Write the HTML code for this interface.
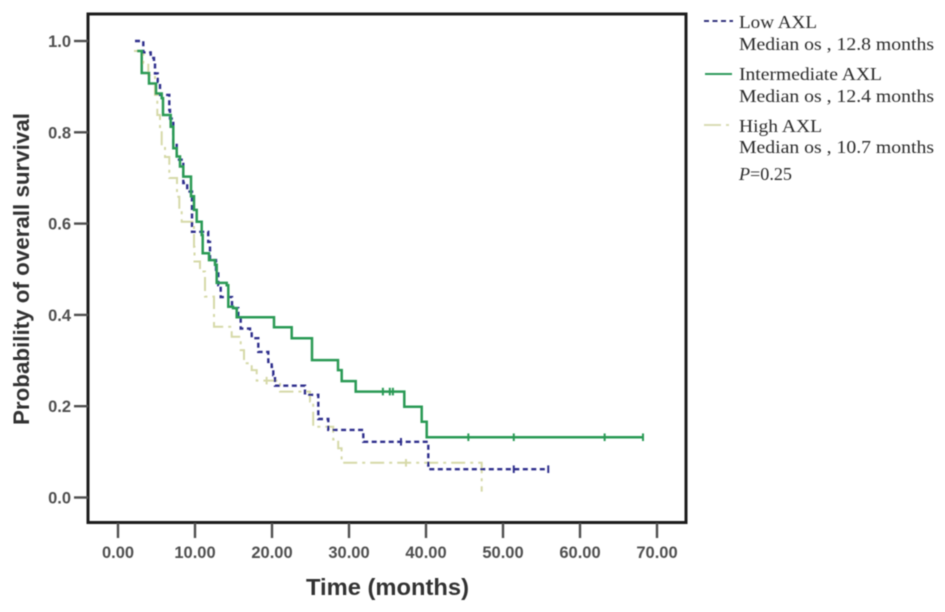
<!DOCTYPE html>
<html>
<head>
<meta charset="utf-8">
<title>Overall survival by AXL expression</title>
<style>
html,body{margin:0;padding:0;background:#fff;width:945px;height:612px;overflow:hidden}
svg{display:block}
text{font-family:"Liberation Sans",Arial,sans-serif}
.leg{font-family:"Liberation Serif","Times New Roman",serif;font-size:18px;fill:#2c2c2c}
</style>
</head>
<body>
<svg id="chart" width="945" height="612" viewBox="0 0 945 612" xmlns="http://www.w3.org/2000/svg">
  <defs>
    <filter id="soft" x="-5%" y="-5%" width="110%" height="110%"><feGaussianBlur stdDeviation="0.6"/></filter>
    <filter id="softer" x="-5%" y="-5%" width="110%" height="110%"><feGaussianBlur stdDeviation="0.45"/></filter>
  </defs>
  <g id="axes" filter="url(#softer)"></g>
  <g id="marks" filter="url(#soft)"></g>
  <g filter="url(#softer)">
    <line x1="704" y1="21" x2="733" y2="21" stroke="#34347e" stroke-width="2" stroke-dasharray="5 3.5"/>
    <text class="leg" x="739" y="28" textLength="78" lengthAdjust="spacingAndGlyphs">Low AXL</text>
    <text class="leg" x="739" y="50" textLength="195" lengthAdjust="spacingAndGlyphs">Median os , 12.8 months</text>
    <line x1="705" y1="74" x2="732" y2="74" stroke="#2e9a5c" stroke-width="2"/>
    <text class="leg" x="739" y="80" textLength="143" lengthAdjust="spacingAndGlyphs">Intermediate AXL</text>
    <text class="leg" x="739" y="102" textLength="195" lengthAdjust="spacingAndGlyphs">Median os , 12.4 months</text>
    <line x1="704" y1="125" x2="733" y2="125" stroke="#d9dcb4" stroke-width="2" stroke-dasharray="17 5 3 4"/>
    <text class="leg" x="739" y="132" textLength="83" lengthAdjust="spacingAndGlyphs">High AXL</text>
    <text class="leg" x="739" y="153" textLength="195" lengthAdjust="spacingAndGlyphs">Median os , 10.7 months</text>
    <text class="leg" x="739" y="180" textLength="53" lengthAdjust="spacingAndGlyphs"><tspan font-style="italic">P</tspan>=0.25</text>
  </g>
</svg>
<script>
var xTickValues = [0, 10, 20, 30, 40, 50, 60, 70];
var xTickLabels = ["0.00", "10.00", "20.00", "30.00", "40.00", "50.00", "60.00", "70.00"];
var yTickValues = [0, 0.2, 0.4, 0.6, 0.8, 1.0];
var yTickLabels = ["0.0", "0.2", "0.4", "0.6", "0.8", "1.0"];

var lowTimes = [2.21, 3.29, 4.25, 4.68, 4.81, 5.16, 5.45, 6.66, 6.75, 7.18, 7.62, 8.48, 8.99, 9.61, 11.71, 11.95, 12.73, 13.03, 13.34, 14.8, 15.62, 15.94, 17.14, 17.36, 18.22, 19.52, 19.96, 20.17, 20.39, 24.29, 26.01, 27.31, 31.86, 40.3, 55.88];
var lowSurvival = [1.0, 0.975, 0.963, 0.951, 0.929, 0.91, 0.882, 0.849, 0.83, 0.776, 0.74, 0.689, 0.67, 0.582, 0.56, 0.52, 0.495, 0.465, 0.439, 0.415, 0.393, 0.37, 0.363, 0.349, 0.319, 0.297, 0.286, 0.268, 0.245, 0.225, 0.172, 0.148, 0.122, 0.062, 0.062];
var lowCensorTimes = [36.75, 51.4, 55.88];
var lowCensorSurvival = [0.122, 0.062, 0.062];

var midTimes = [2.47, 3.08, 4.03, 4.94, 5.68, 5.84, 6.84, 7.18, 7.62, 8.05, 8.48, 9.48, 9.87, 10.22, 10.87, 11.0, 11.82, 12.6, 12.82, 14.12, 14.32, 14.94, 15.42, 20.26, 22.56, 25.2, 28.57, 29.05, 30.87, 37.18, 39.44, 40.09, 68.18];
var midSurvival = [0.978, 0.93, 0.907, 0.885, 0.875, 0.838, 0.812, 0.765, 0.747, 0.725, 0.703, 0.66, 0.63, 0.604, 0.575, 0.535, 0.52, 0.51, 0.47, 0.465, 0.418, 0.415, 0.395, 0.373, 0.349, 0.301, 0.279, 0.255, 0.232, 0.199, 0.166, 0.132, 0.132];
var midCensorTimes = [34.4, 35.3, 35.7, 45.5, 51.4, 63.2, 68.18];
var midCensorSurvival = [0.232, 0.232, 0.232, 0.132, 0.132, 0.132, 0.132];

var highTimes = [2.08, 3.29, 3.94, 4.81, 5.1, 5.45, 5.68, 6.1, 6.66, 7.66, 7.96, 8.27, 9.87, 9.94, 10.65, 11.3, 12.47, 14.77, 15.94, 16.36, 17.36, 18.01, 21.04, 24.94, 25.35, 27.95, 28.6, 29.04, 47.23];
var highSurvival = [0.978, 0.951, 0.925, 0.882, 0.838, 0.805, 0.768, 0.746, 0.7, 0.659, 0.63, 0.604, 0.549, 0.517, 0.495, 0.44, 0.374, 0.352, 0.323, 0.294, 0.279, 0.256, 0.232, 0.21, 0.155, 0.127, 0.108, 0.076, 0.013];
var highCensorTimes = [19.3, 37.4];
var highCensorSurvival = [0.256, 0.076];

var NS = 'http://www.w3.org/2000/svg';
var axesGroup = document.getElementById('axes');
var marksGroup = document.getElementById('marks');

function xScale(t) { return 118 + t * 7.7; }
function yScale(s) { return 497.5 - s * 456.5; }

function make(tag, attrs, parent) {
  var el = document.createElementNS(NS, tag);
  for (var k in attrs) { el.setAttribute(k, attrs[k]); }
  parent.appendChild(el);
  return el;
}

function stepPath(times, surv) {
  var d = 'M' + xScale(times[0]).toFixed(1) + ' ' + yScale(surv[0]).toFixed(1);
  for (var i = 1; i < times.length; i++) {
    d += 'H' + xScale(times[i]).toFixed(1) + 'V' + yScale(surv[i]).toFixed(1);
  }
  return d;
}

function drawSeries(name, times, surv, cTimes, cSurv, color, width, dash) {
  var p = make('path', {d: stepPath(times, surv), fill: 'none', stroke: color, 'stroke-width': width, 'stroke-dasharray': dash}, marksGroup);
  
  
  for (var i = 0; i < cTimes.length; i++) {
    var cx = xScale(cTimes[i]);
    var cy = yScale(cSurv[i]);
    var c = make('line', {x1: cx, x2: cx, y1: cy - 3.8, y2: cy + 3.8, stroke: color, 'stroke-width': 2}, marksGroup);
    
    
  }
}

var frame = make('rect', {x: 88, y: 14, width: 598, height: 508.5, fill: 'none', stroke: '#1e1e1e', 'stroke-width': 3}, axesGroup);



xTickValues.forEach(function (v, i) {
  var x = xScale(v);
  var tick = make('line', {x1: x, x2: x, y1: 523, y2: 538, stroke: '#505050', 'stroke-width': 2.4}, axesGroup);
  
  
  var label = make('text', {x: x, y: 557.8, 'text-anchor': 'middle', 'font-size': 16.5, 'font-weight': 'bold', fill: '#505050'}, axesGroup);
  
  
  label.textContent = xTickLabels[i];
});

yTickValues.forEach(function (v, i) {
  var y = yScale(v);
  var tick = make('line', {x1: 74, x2: 88, y1: y, y2: y, stroke: '#505050', 'stroke-width': 2.4}, axesGroup);
  
  
  var label = make('text', {x: 71, y: y + 6, 'text-anchor': 'end', 'font-size': 16.5, 'font-weight': 'bold', fill: '#505050'}, axesGroup);
  
  
  label.textContent = yTickLabels[i];
});

var xTitle = make('text', {x: 387.5, y: 595, 'text-anchor': 'middle', 'font-size': 23, 'font-weight': 'bold', fill: '#333', textLength: 163, lengthAdjust: 'spacingAndGlyphs'}, axesGroup);


xTitle.textContent = 'Time (months)';

var yTitle = make('text', {x: 0, y: 0, transform: 'translate(29 269) rotate(-90)', 'text-anchor': 'middle', 'font-size': 22, 'font-weight': 'bold', fill: '#333', textLength: 312, lengthAdjust: 'spacingAndGlyphs'}, axesGroup);


yTitle.textContent = 'Probability of overall survival';

drawSeries('high-axl', highTimes, highSurvival, highCensorTimes, highCensorSurvival, '#d6d9a8', 2, '14 5 3 5');
drawSeries('low-axl', lowTimes, lowSurvival, lowCensorTimes, lowCensorSurvival, '#2f2f8c', 2.4, '5 3.5');
drawSeries('intermediate-axl', midTimes, midSurvival, midCensorTimes, midCensorSurvival, '#2a9a55', 2.5, 'none');
</script>
</body>
</html>
